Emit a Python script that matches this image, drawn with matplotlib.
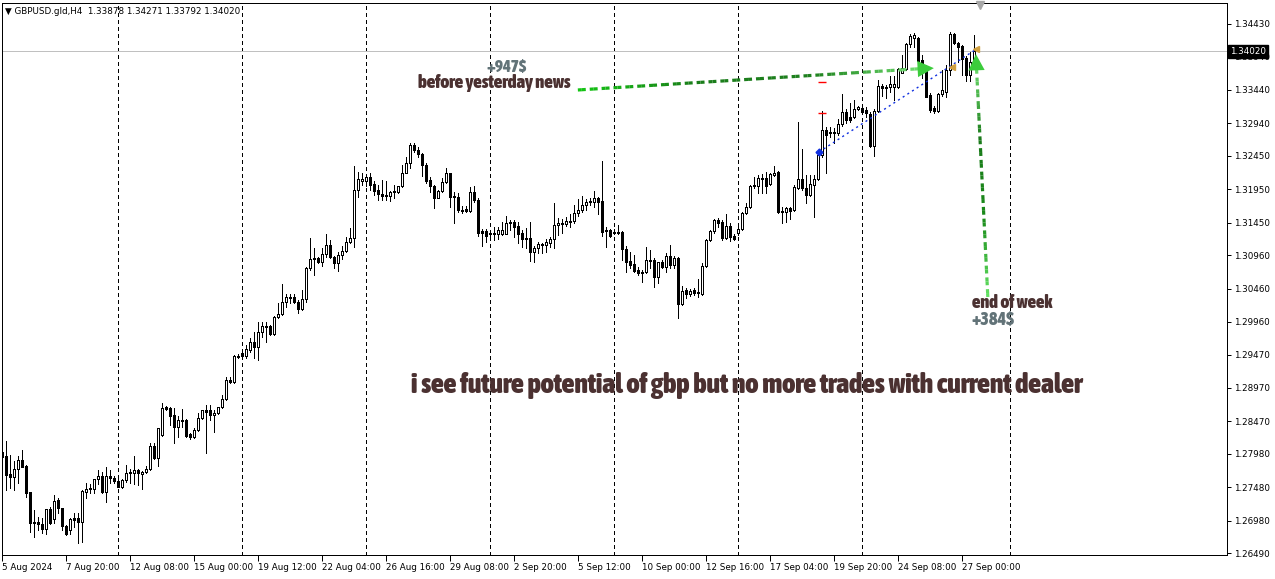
import numpy as np
import matplotlib
matplotlib.use('Agg')
import matplotlib.pyplot as plt
from matplotlib import transforms, font_manager
from matplotlib.collections import LineCollection
from matplotlib.colors import LinearSegmentedColormap

# GBPUSD H4 candles, 5 Aug - 27 Sep 2024
opens = [
    1.28010, 1.27950, 1.27680, 1.27635, 1.27755, 1.27890, 1.27800, 1.27410, 1.26960, 1.26960,
    1.26930, 1.26855, 1.27155, 1.27005, 1.27290, 1.27170, 1.26900, 1.26840, 1.27020, 1.27020,
    1.26960, 1.27410, 1.27455, 1.27455, 1.27605, 1.27650, 1.27410, 1.27650, 1.27620, 1.27575,
    1.27485, 1.27590, 1.27695, 1.27695, 1.27740, 1.27680, 1.27710, 1.27755, 1.28100, 1.27920,
    1.28265, 1.28685, 1.28670, 1.28565, 1.28385, 1.28475, 1.28490, 1.28280, 1.28235, 1.28340,
    1.28520, 1.28640, 1.28640, 1.28565, 1.28595, 1.28685, 1.28805, 1.29090, 1.29060, 1.29450,
    1.29495, 1.29450, 1.29540, 1.29660, 1.29585, 1.29810, 1.29900, 1.29900, 1.29780, 1.30035,
    1.30080, 1.30260, 1.30335, 1.30335, 1.30260, 1.30155, 1.30305, 1.30770, 1.30905, 1.30920,
    1.30860, 1.30980, 1.31115, 1.30935, 1.30845, 1.30965, 1.31025, 1.31160, 1.31220, 1.31940,
    1.32075, 1.32075, 1.32135, 1.32030, 1.31940, 1.31880, 1.31850, 1.31850, 1.31910, 1.31910,
    1.32000, 1.32195, 1.32345, 1.32615, 1.32540, 1.32480, 1.32315, 1.32090, 1.32000, 1.31820,
    1.31925, 1.32060, 1.32195, 1.31850, 1.31835, 1.31640, 1.31655, 1.31625, 1.31910, 1.31790,
    1.31325, 1.31325, 1.31295, 1.31280, 1.31280, 1.31280, 1.31280, 1.31460, 1.31460, 1.31400,
    1.31295, 1.31220, 1.31220, 1.31010, 1.31070, 1.31115, 1.31115, 1.31145, 1.31205, 1.31415,
    1.31430, 1.31430, 1.31475, 1.31475, 1.31595, 1.31640, 1.31715, 1.31760, 1.31760, 1.31820,
    1.31775, 1.31340, 1.31340, 1.31310, 1.31310, 1.31310, 1.31055, 1.30875, 1.30830, 1.30740,
    1.30710, 1.30710, 1.30890, 1.30890, 1.30635, 1.30860, 1.30785, 1.30950, 1.30815, 1.30920,
    1.30230, 1.30440, 1.30380, 1.30440, 1.30395, 1.30380, 1.30800, 1.31190, 1.31325, 1.31490,
    1.31460, 1.31220, 1.31400, 1.31250, 1.31295, 1.31355, 1.31595, 1.31685, 1.32000, 1.32000,
    1.32120, 1.32120, 1.32030, 1.32165, 1.32210, 1.31625, 1.31610, 1.31670, 1.31640, 1.31970,
    1.32105, 1.31970, 1.31865, 1.32015, 1.32105, 1.32465, 1.32840, 1.32795, 1.32810, 1.32795,
    1.32930, 1.33110, 1.33035, 1.33035, 1.33155, 1.33170, 1.33140, 1.33080, 1.32600, 1.33125,
    1.33500, 1.33470, 1.33485, 1.33485, 1.33485, 1.33695, 1.33755, 1.34130, 1.34220, 1.34220,
    1.33890, 1.33785, 1.33365, 1.33170, 1.33125, 1.33380, 1.33410, 1.33740, 1.34280, 1.34145,
    1.34100, 1.33920, 1.33665, 1.33878]
highs = [
    1.28145, 1.28175, 1.27965, 1.27875, 1.27950, 1.28040, 1.27815, 1.27410, 1.27140, 1.27035,
    1.27020, 1.27155, 1.27185, 1.27365, 1.27320, 1.27170, 1.26915, 1.27020, 1.27095, 1.27095,
    1.27440, 1.27545, 1.27530, 1.27605, 1.27740, 1.27710, 1.27785, 1.27740, 1.27650, 1.27605,
    1.27605, 1.27815, 1.27755, 1.27950, 1.27755, 1.27725, 1.27800, 1.28145, 1.28145, 1.28370,
    1.28745, 1.28700, 1.28685, 1.28670, 1.28550, 1.28655, 1.28505, 1.28295, 1.28370, 1.28595,
    1.28640, 1.28715, 1.28715, 1.28640, 1.28685, 1.28865, 1.29135, 1.29135, 1.29465, 1.29480,
    1.29540, 1.29615, 1.29720, 1.29810, 1.29960, 1.29960, 1.29960, 1.29915, 1.30050, 1.30245,
    1.30530, 1.30380, 1.30380, 1.30380, 1.30290, 1.30440, 1.30785, 1.31220, 1.31070, 1.30935,
    1.31070, 1.31280, 1.31190, 1.30950, 1.31010, 1.31100, 1.31235, 1.31370, 1.32300, 1.32210,
    1.32195, 1.32180, 1.32195, 1.32075, 1.32015, 1.32090, 1.32075, 1.31925, 1.32015, 1.32000,
    1.32315, 1.32435, 1.32645, 1.32645, 1.32585, 1.32495, 1.32345, 1.32135, 1.32015, 1.31940,
    1.32120, 1.32270, 1.32195, 1.31910, 1.31895, 1.31700, 1.31700, 1.31985, 1.32000, 1.31820,
    1.31355, 1.31355, 1.31340, 1.31385, 1.31385, 1.31460, 1.31550, 1.31490, 1.31490, 1.31460,
    1.31340, 1.31370, 1.31460, 1.31100, 1.31160, 1.31145, 1.31205, 1.31235, 1.31745, 1.31520,
    1.31505, 1.31535, 1.31580, 1.31715, 1.31805, 1.31850, 1.31805, 1.31820, 1.31925, 1.31835,
    1.32375, 1.31385, 1.31355, 1.31355, 1.31415, 1.31325, 1.31100, 1.31010, 1.30965, 1.30785,
    1.30740, 1.31085, 1.31040, 1.30920, 1.30860, 1.30890, 1.30995, 1.31115, 1.30950, 1.30935,
    1.30500, 1.30470, 1.30455, 1.30470, 1.30605, 1.30845, 1.31205, 1.31340, 1.31505, 1.31520,
    1.31490, 1.31580, 1.31445, 1.31280, 1.31415, 1.31610, 1.31745, 1.32015, 1.32135, 1.32165,
    1.32180, 1.32210, 1.32195, 1.32300, 1.32225, 1.31685, 1.31685, 1.31685, 1.32015, 1.32960,
    1.32555, 1.32165, 1.32165, 1.32165, 1.32495, 1.33125, 1.32885, 1.32885, 1.32870, 1.33005,
    1.33380, 1.33155, 1.33245, 1.33290, 1.33200, 1.33215, 1.33185, 1.33110, 1.33155, 1.33590,
    1.33530, 1.33515, 1.33650, 1.33650, 1.33770, 1.33965, 1.34145, 1.34280, 1.34295, 1.34235,
    1.33965, 1.33815, 1.33395, 1.33200, 1.33395, 1.33740, 1.33815, 1.34310, 1.34295, 1.34160,
    1.34115, 1.33950, 1.34010, 1.34271]
lows = [
    1.27095, 1.27440, 1.27470, 1.27440, 1.27545, 1.27785, 1.27335, 1.26810, 1.26735, 1.26840,
    1.26795, 1.26780, 1.26930, 1.26945, 1.27095, 1.26840, 1.26765, 1.26780, 1.26885, 1.26645,
    1.26660, 1.27320, 1.27395, 1.27395, 1.27530, 1.27395, 1.27260, 1.27545, 1.27545, 1.27485,
    1.27470, 1.27560, 1.27545, 1.27530, 1.27515, 1.27455, 1.27695, 1.27740, 1.27905, 1.27800,
    1.28250, 1.28640, 1.28415, 1.28145, 1.28235, 1.28385, 1.28235, 1.28205, 1.28220, 1.28325,
    1.28505, 1.27995, 1.28490, 1.28310, 1.28580, 1.28670, 1.28790, 1.29045, 1.29045, 1.29420,
    1.29420, 1.29420, 1.29510, 1.29420, 1.29390, 1.29735, 1.29660, 1.29765, 1.29765, 1.30020,
    1.30065, 1.30185, 1.30245, 1.30245, 1.30095, 1.30140, 1.30260, 1.30740, 1.30665, 1.30845,
    1.30800, 1.30935, 1.30920, 1.30770, 1.30725, 1.30905, 1.31010, 1.31145, 1.31085, 1.31835,
    1.32015, 1.32000, 1.31940, 1.31865, 1.31790, 1.31790, 1.31790, 1.31775, 1.31820, 1.31895,
    1.31985, 1.32195, 1.32270, 1.32510, 1.32435, 1.32150, 1.32045, 1.31910, 1.31670, 1.31820,
    1.31910, 1.32045, 1.31685, 1.31445, 1.31610, 1.31595, 1.31610, 1.31610, 1.31760, 1.31250,
    1.31100, 1.31160, 1.31220, 1.31190, 1.31205, 1.31265, 1.31280, 1.31340, 1.31235, 1.31145,
    1.31085, 1.31070, 1.30875, 1.30860, 1.30995, 1.30995, 1.31010, 1.31085, 1.31070, 1.31265,
    1.31295, 1.31400, 1.31385, 1.31445, 1.31550, 1.31610, 1.31640, 1.31715, 1.31685, 1.31580,
    1.31250, 1.31085, 1.31235, 1.31280, 1.31280, 1.30890, 1.30710, 1.30770, 1.30710, 1.30665,
    1.30560, 1.30695, 1.30770, 1.30485, 1.30545, 1.30770, 1.30710, 1.30770, 1.30770, 1.30020,
    1.30215, 1.30320, 1.30350, 1.30365, 1.30335, 1.30365, 1.30785, 1.31175, 1.31295, 1.31385,
    1.31190, 1.31205, 1.31175, 1.31190, 1.31265, 1.31340, 1.31580, 1.31670, 1.31970, 1.31895,
    1.31895, 1.31895, 1.32015, 1.32150, 1.31595, 1.31445, 1.31460, 1.31505, 1.31625, 1.31955,
    1.31940, 1.31745, 1.31850, 1.31535, 1.32090, 1.32435, 1.32195, 1.32735, 1.32645, 1.32765,
    1.32900, 1.32945, 1.32960, 1.33020, 1.33140, 1.33095, 1.33035, 1.32585, 1.32450, 1.33110,
    1.33350, 1.33320, 1.33410, 1.33290, 1.33470, 1.33695, 1.33740, 1.34085, 1.34085, 1.33860,
    1.33620, 1.33335, 1.33110, 1.33095, 1.33110, 1.33350, 1.33335, 1.33665, 1.34130, 1.33860,
    1.33665, 1.33575, 1.33575, 1.33792]
closes = [
    1.27935, 1.27665, 1.27635, 1.27755, 1.27890, 1.27785, 1.27395, 1.26945, 1.26945, 1.26930,
    1.26855, 1.27155, 1.26945, 1.27275, 1.27170, 1.26900, 1.26780, 1.27005, 1.26990, 1.26960,
    1.27425, 1.27455, 1.27470, 1.27605, 1.27650, 1.27410, 1.27650, 1.27620, 1.27575, 1.27485,
    1.27590, 1.27695, 1.27710, 1.27740, 1.27695, 1.27710, 1.27755, 1.28100, 1.27920, 1.28370,
    1.28670, 1.28655, 1.28550, 1.28385, 1.28490, 1.28490, 1.28250, 1.28235, 1.28340, 1.28520,
    1.28640, 1.28610, 1.28565, 1.28595, 1.28685, 1.28805, 1.29090, 1.29060, 1.29450, 1.29435,
    1.29450, 1.29555, 1.29660, 1.29585, 1.29810, 1.29900, 1.29885, 1.29780, 1.30035, 1.30080,
    1.30260, 1.30335, 1.30320, 1.30260, 1.30155, 1.30305, 1.30770, 1.30905, 1.30920, 1.30860,
    1.30980, 1.31115, 1.30935, 1.30845, 1.30965, 1.31025, 1.31160, 1.31220, 1.31940, 1.32105,
    1.32105, 1.32135, 1.32015, 1.31925, 1.31880, 1.31850, 1.31865, 1.31910, 1.31925, 1.32000,
    1.32195, 1.32345, 1.32615, 1.32540, 1.32480, 1.32315, 1.32075, 1.32000, 1.31820, 1.31925,
    1.32060, 1.32195, 1.31835, 1.31835, 1.31640, 1.31625, 1.31625, 1.31910, 1.31790, 1.31295,
    1.31295, 1.31250, 1.31280, 1.31295, 1.31340, 1.31340, 1.31445, 1.31445, 1.31385, 1.31280,
    1.31205, 1.31205, 1.31010, 1.31070, 1.31130, 1.31130, 1.31160, 1.31205, 1.31415, 1.31445,
    1.31445, 1.31475, 1.31460, 1.31595, 1.31640, 1.31715, 1.31760, 1.31775, 1.31820, 1.31760,
    1.31310, 1.31325, 1.31250, 1.31295, 1.31295, 1.31055, 1.30860, 1.30815, 1.30725, 1.30695,
    1.30695, 1.30890, 1.30875, 1.30635, 1.30860, 1.30785, 1.30950, 1.30815, 1.30920, 1.30230,
    1.30425, 1.30380, 1.30425, 1.30395, 1.30410, 1.30800, 1.31190, 1.31325, 1.31490, 1.31445,
    1.31220, 1.31400, 1.31235, 1.31205, 1.31355, 1.31595, 1.31685, 1.32000, 1.32015, 1.32120,
    1.32105, 1.32000, 1.32180, 1.32195, 1.31610, 1.31610, 1.31670, 1.31625, 1.31985, 1.32105,
    1.31970, 1.31865, 1.32030, 1.32105, 1.32465, 1.32840, 1.32765, 1.32810, 1.32795, 1.32930,
    1.33110, 1.32990, 1.32990, 1.33155, 1.33185, 1.33110, 1.33095, 1.32600, 1.33125, 1.33500,
    1.33470, 1.33485, 1.33530, 1.33530, 1.33755, 1.33770, 1.34130, 1.34250, 1.34265, 1.33875,
    1.33785, 1.33335, 1.33140, 1.33125, 1.33380, 1.33440, 1.33740, 1.34280, 1.34145, 1.34085,
    1.33905, 1.33665, 1.33860, 1.34020]

date_labels = ['5 Aug 2024', '7 Aug 20:00', '12 Aug 08:00', '15 Aug 00:00', '19 Aug 12:00',
               '22 Aug 04:00', '26 Aug 16:00', '29 Aug 08:00', '2 Sep 20:00', '5 Sep 12:00',
               '10 Sep 00:00', '12 Sep 16:00', '17 Sep 04:00', '19 Sep 20:00', '24 Sep 08:00',
               '27 Sep 00:00']
price_ticks = [1.34430, 1.33940, 1.33440, 1.32940, 1.32450, 1.31950, 1.31450, 1.30960, 1.30460,
               1.29960, 1.29470, 1.28970, 1.28470, 1.27980, 1.27480, 1.26980, 1.26490]
week_starts = [29, 60, 91, 122, 153, 184, 215, 252]   # period separators (bar index)
last_price = 1.34020

o = np.array(opens); h = np.array(highs); l = np.array(lows); c = np.array(closes)
idx = np.arange(len(o))


def pick_narrow_bold():
    # look for a heavy narrow/condensed face among the installed fonts (Impact-like)
    def wnum(w):
        return font_manager.weight_dict.get(w, 400) if isinstance(w, str) else w
    best = None
    for f in font_manager.fontManager.ttflist:
        st = str(f.stretch)
        narrow = ('Narrow' in f.name or 'Condensed' in f.name
                  or st in ('condensed', 'semi-condensed', 'extra-condensed'))
        if not narrow or wnum(f.weight) < 600 or f.style != 'normal':
            continue
        extra = 'Extra' in f.name or 'extra' in st or 'Semi' in f.name or 'semi' in st
        score = (abs(wnum(f.weight) - 850) // 100, 1 if extra else 0)
        if best is None or score < best[0]:
            best = (score, f.fname)
    if best is None:
        return font_manager.FontProperties(family='DejaVu Sans', weight='bold')
    return font_manager.FontProperties(fname=best[1])


fig = plt.figure(figsize=(12.75, 5.79), dpi=100)
ax = fig.add_axes([2 / 1275, 1 - 555 / 579, 1225 / 1275, 552 / 579])
ax.set_xlim(-0.075, 306.2)
ax.set_ylim(1.26465, 1.347445)

# separators and last price line
ax.vlines(week_starts, 1.26465, 1.347445, colors='black', linewidth=0.72,
          linestyles=(0, (4, 3)), zorder=1, antialiased=False)
ax.axhline(last_price, color='#c0c0c0', linewidth=0.72, zorder=1)

# candles
top = np.maximum(o, c); bot = np.minimum(o, c)
ax.vlines(idx, np.minimum(l, bot), np.maximum(h, top), colors='black', linewidth=0.72,
          zorder=2, antialiased=False)
fill = ['white' if cc >= oo else 'black' for oo, cc in zip(o, c)]
ax.bar(idx, top - bot, bottom=bot, width=0.55, color=fill, edgecolor='black',
       linewidth=0.72, zorder=3, antialiased=False)


def grad_dash(x0, y0, x1, y1, cols, n, lw=2.3):
    cmap = LinearSegmentedColormap.from_list('g', cols)
    t = np.linspace(0, 1, n + 1)
    xs = x0 + (x1 - x0) * t
    ys = y0 + (y1 - y0) * t
    segs, cs = [], []
    for k in range(n):
        if k % 3 == 2:
            continue
        segs.append([(xs[k], ys[k]), (xs[k + 1], ys[k + 1])])
        cs.append(cmap(t[k]))
    ax.add_collection(LineCollection(segs, colors=cs, linewidths=lw, capstyle='butt', zorder=5))


# green arrows
grad_dash(143.9, 1.3344, 231.0, 1.33765, ['#14c414', '#1a7d1a', '#1e801e', '#74e474'], 88)
ax.annotate('', xy=(233.6, 1.3377), xytext=(229.0, 1.33755),
            arrowprops=dict(arrowstyle='-|>,head_length=0.9,head_width=0.45',
                            color='#3ccc3c', lw=0, mutation_scale=13), zorder=6)
grad_dash(246.4, 1.30335, 243.5, 1.3386, ['#62e062', '#1a8a1a', '#1a7a1a', '#74e474'], 60)
ax.annotate('', xy=(243.4, 1.3402), xytext=(243.6, 1.3370),
            arrowprops=dict(arrowstyle='-|>,head_length=0.9,head_width=0.45',
                            color='#3ccc3c', lw=0, mutation_scale=13), zorder=6)

# trade markers
ax.plot([204.2, 243.2], [1.3251, 1.3404], color='#1030e0', linewidth=1.0,
        linestyle=(0, (1.5, 2.5)), zorder=4)
ax.plot([204.2], [1.3251], marker='D', color='#1030e0', markersize=3.5, zorder=5)
ax.plot([237.4, 243.4], [1.33785, 1.34055], linestyle='none', marker='<',
        color='#d0a040', markersize=5, zorder=5)
ax.plot([205, 205], [1.3356, 1.33095], linestyle='none', marker='_', color='red',
        markersize=6, markeredgewidth=1.0, zorder=5)
ax.plot([244.4], [1.3471], marker='v', color='#a8a8a8', markersize=6, clip_on=False, zorder=6)

# annotations, each fitted to the width it has in the screenshot
fp = pick_narrow_bold()
brown = '#4b3131'
grey = '#627378'
notes = [
    (126.2, 1.33785, '+947$', 'center', grey, 40),
    (122.9, 1.33545, 'before yesterday news', 'center', brown, 152),
    (242.4, 1.30245, 'end of week', 'left', brown, 80),
    (242.4, 1.29990, '+384$', 'left', grey, 43),
    (186.2, 1.29000, 'i see future potential of gbp but no more trades with current dealer',
     'center', brown, 669),
]
renderer = fig.canvas.get_renderer()
for x, y, s, ha, col, wpx in notes:
    t = ax.text(x, y, s, ha=ha, va='center', fontproperties=fp, fontsize=12, color=col, zorder=7)
    w = t.get_window_extent(renderer).width
    t.set_fontsize(12 * wpx / w)

ax.text(0.0024, 0.9855, '\u25bc GBPUSD.gld,H4  1.33878 1.34271 1.33792 1.34020',
        transform=ax.transAxes, ha='left', va='center', fontsize=6.3, color='black')

# axes styling
for s in ax.spines.values():
    s.set_linewidth(0.72)
ax.yaxis.tick_right()
ax.set_yticks(price_ticks)
ax.set_yticklabels(['%.5f' % p for p in price_ticks])
ax.tick_params(axis='y', direction='out', length=3, width=0.72, pad=2, labelsize=6.3)
ax.set_xticks(np.arange(len(date_labels)) * 16)
ax.set_xticklabels(date_labels)
for lab in ax.get_xticklabels():
    lab.set_horizontalalignment('left')
ax.tick_params(axis='x', direction='out', length=4, width=0.72, pad=1.5, labelsize=6.3)

# current price tag
tr = transforms.blended_transform_factory(ax.transAxes, ax.transData)
ax.text(1.0025, last_price, '1.34020', transform=tr, ha='left', va='center', fontsize=6.3,
        color='white', zorder=10, clip_on=False,
        bbox=dict(boxstyle='square,pad=0.2', facecolor='black', edgecolor='black'))

fig.savefig('out.png', dpi=100)
